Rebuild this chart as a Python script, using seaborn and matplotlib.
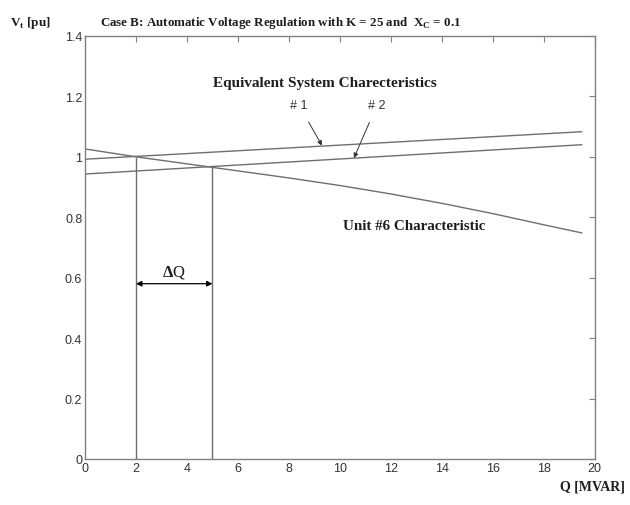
import numpy as np
import pandas as pd
import seaborn as sns
import matplotlib as mpl
mpl.use('Agg')
import matplotlib.pyplot as plt

## DATA
q_unit6 = [0, 2, 5, 8, 10, 12, 14, 16, 18, 19.5]
v_unit6 = [1.026, 1.0, 0.965, 0.930, 0.905, 0.877, 0.846, 0.812, 0.775, 0.748]
q_sys1 = [0, 19.5]
v_sys1 = [0.992, 1.083]
q_sys2 = [0, 19.5]
v_sys2 = [0.943, 1.040]
# operating points (vertical drop lines)
q_op = [2, 5]
v_op = [1.0, 0.966]
xticks = np.arange(0, 21, 2)
yticks = [0, 0.2, 0.4, 0.6, 0.8, 1.0, 1.2, 1.4]
yticklabels = ['0', '0.2', '0.4', '0.6', '0.8', '1', '1.2', '1.4']

## STYLE
sns.set_style("white")
plt.rcParams['font.family'] = ['Liberation Sans', 'DejaVu Sans']
plt.rcParams['mathtext.fontset'] = 'custom'
plt.rcParams['mathtext.rm'] = 'Liberation Serif:bold'
plt.rcParams['mathtext.bf'] = 'Liberation Serif:bold'
serif = ['Liberation Serif', 'DejaVu Serif']
linecol = '#6e6e6e'
axcol = '#808080'
txtcol = '#1e1e1e'

fig = plt.figure(figsize=(6.3, 5.06), dpi=100)
ax = fig.add_axes([0.135, 0.091, 0.809, 0.836])

df = pd.concat([
    pd.DataFrame({'Q': q_unit6, 'V': v_unit6, 'curve': 'unit6'}),
    pd.DataFrame({'Q': q_sys1, 'V': v_sys1, 'curve': 'sys1'}),
    pd.DataFrame({'Q': q_sys2, 'V': v_sys2, 'curve': 'sys2'}),
])
sns.lineplot(data=df, x='Q', y='V', units='curve', estimator=None, sort=False,
             color=linecol, lw=1.0, ax=ax, legend=False)

# vertical lines at operating points
for q, v in zip(q_op, v_op):
    ax.vlines(q, 0, v, color=linecol, lw=1.0)

# delta Q arrow
ax.annotate('', xy=(q_op[0], 0.58), xytext=(q_op[1], 0.58),
            arrowprops=dict(arrowstyle='<|-|>', color='black', lw=0.9,
                            mutation_scale=8, shrinkA=0, shrinkB=0))
ax.text(3.5, 0.622, r'$\Delta$Q', ha='center', va='center', fontsize=12,
        family=serif, color=txtcol)

# annotations
ax.text(9.4, 1.245, 'Equivalent System Charecteristics', ha='center', va='center',
        fontsize=11, fontweight='bold', family=serif, color=txtcol)
ax.annotate('# 1', xy=(9.3, 1.037), xytext=(8.4, 1.17), ha='center', va='center',
            fontsize=9, color='#333333',
            arrowprops=dict(arrowstyle='-|>', color='#333333', lw=0.7,
                            mutation_scale=7, shrinkA=6, shrinkB=0))
ax.annotate('# 2', xy=(10.55, 0.996), xytext=(11.45, 1.17), ha='center', va='center',
            fontsize=9, color='#333333',
            arrowprops=dict(arrowstyle='-|>', color='#333333', lw=0.7,
                            mutation_scale=7, shrinkA=6, shrinkB=0))
ax.text(12.9, 0.772, 'Unit #6 Characteristic', ha='center', va='center',
        fontsize=10.8, fontweight='bold', family=serif, color=txtcol)

# axes, MATLAB-like box with inward ticks
ax.set(xlim=(0, 20), ylim=(0, 1.4), xlabel='', ylabel='')
ax.set_xticks(xticks)
ax.set_yticks(yticks)
ax.set_yticklabels(yticklabels)
ax.tick_params(direction='in', top=True, right=True, length=4, width=0.8,
               color=axcol, labelsize=9, labelcolor='#333333', pad=2)
for s in ax.spines.values():
    s.set_color(axcol)
    s.set_linewidth(1.0)

fig.text(0.446, 0.955, r'Case B: Automatic Voltage Regulation with K = 25 and  X$_\mathbf{C}$ = 0.1',
         ha='center', va='center', fontsize=9.4, fontweight='bold', family=serif,
         color=txtcol)
fig.text(0.016, 0.955, r'V$_\mathbf{t}$ [pu]', ha='left', va='center', fontsize=9.5,
         fontweight='bold', family=serif, color=txtcol)
fig.text(0.992, 0.037, 'Q [MVAR]', ha='right', va='center', fontsize=10,
         fontweight='bold', family=serif, color=txtcol)

fig.savefig('out.png', dpi=100, facecolor='white')
